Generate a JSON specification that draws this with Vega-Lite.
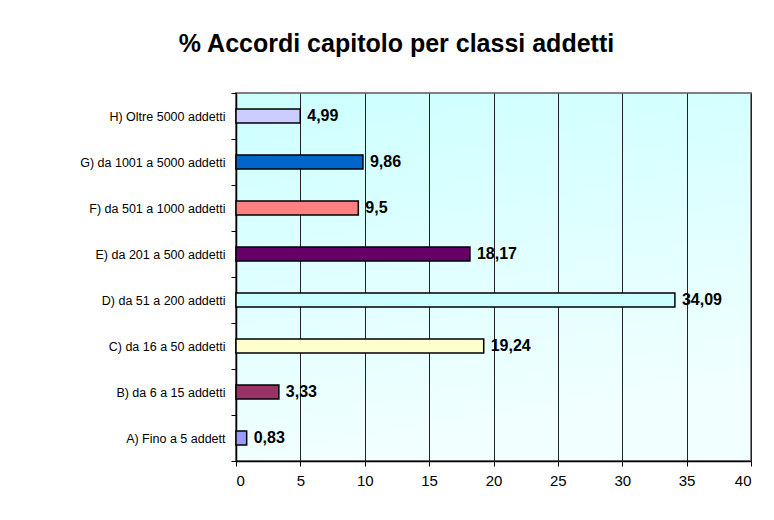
{
  "$schema": "https://vega.github.io/schema/vega-lite/v6.json",
  "autosize": {"type": "none"},
  "width": 515,
  "height": 368,
  "padding": {"left": 236, "top": 93, "right": 23, "bottom": 59},
  "background": "white",
  "config": {
    "locale": {"number": {"decimal": ",", "thousands": ".", "grouping": [3], "currency": ["€", ""]}},
    "font": "Liberation Sans",
    "view": {
      "stroke": "#808080",
      "strokeWidth": 2,
      "fill": {
        "gradient": "linear",
        "x1": 0, "y1": 0, "x2": 0.25, "y2": 1,
        "stops": [{"offset": 0, "color": "#CCFFFF"}, {"offset": 1, "color": "#F2FFFF"}]
      }
    }
  },
  "title": {
    "text": "% Accordi capitolo per classi addetti",
    "fontSize": 25,
    "fontWeight": "bold",
    "color": "black",
    "font": "Liberation Sans",
    "anchor": "middle",
    "dx": -97,
    "offset": 10,
    "baseline": "alphabetic"
  },
  "data": {
    "values": [
      {"classe": "H) Oltre 5000 addetti", "perc": 4.99},
      {"classe": "G) da 1001 a 5000 addetti", "perc": 9.86},
      {"classe": "F) da 501 a 1000 addetti", "perc": 9.5},
      {"classe": "E) da 201 a 500 addetti", "perc": 18.17},
      {"classe": "D) da 51 a 200 addetti", "perc": 34.09},
      {"classe": "C) da 16 a 50 addetti", "perc": 19.24},
      {"classe": "B) da 6 a 15 addetti", "perc": 3.33},
      {"classe": "A) Fino a 5 addett", "perc": 0.83}
    ]
  },
  "encoding": {
    "y": {
      "field": "classe",
      "type": "nominal",
      "sort": null,
      "title": null,
      "scale": {"paddingInner": 0, "paddingOuter": 0},
      "axis": {
        "labelFontSize": 12.5,
        "labelColor": "black",
        "labelPadding": 6,
        "domainColor": "black",
        "domainWidth": 1.5,
        "tickColor": "black",
        "tickSize": 5,
        "tickBand": "extent",
        "grid": false
      }
    },
    "x": {
      "field": "perc",
      "type": "quantitative",
      "title": null,
      "scale": {"domain": [0, 40], "nice": false},
      "axis": {
        "values": [0, 5, 10, 15, 20, 25, 30, 35, 40],
        "labelFontSize": 15,
        "labelColor": "black",
        "labelPadding": 7,
        "domainColor": "black",
        "domainWidth": 1.5,
        "tickColor": "black",
        "tickSize": 5,
        "grid": true,
        "gridColor": "#222222",
        "gridWidth": 1,
        "gridOpacity": 1
      }
    }
  },
  "layer": [
    {
      "mark": {"type": "bar", "height": 14, "stroke": "black", "strokeWidth": 1.5},
      "encoding": {
        "color": {
          "field": "classe",
          "type": "nominal",
          "legend": null,
          "scale": {
            "domain": ["H) Oltre 5000 addetti", "G) da 1001 a 5000 addetti", "F) da 501 a 1000 addetti", "E) da 201 a 500 addetti", "D) da 51 a 200 addetti", "C) da 16 a 50 addetti", "B) da 6 a 15 addetti", "A) Fino a 5 addett"],
            "range": ["#CCCCFF", "#0066CC", "#FF8080", "#660066", "#CCFFFF", "#FFFFCC", "#993366", "#9999FF"]
          }
        }
      }
    },
    {
      "mark": {"type": "text", "align": "left", "baseline": "middle", "dx": 7, "fontSize": 16, "fontWeight": "bold", "color": "black"},
      "encoding": {
        "text": {"field": "perc", "type": "quantitative", "format": "~g"}
      }
    }
  ]
}
